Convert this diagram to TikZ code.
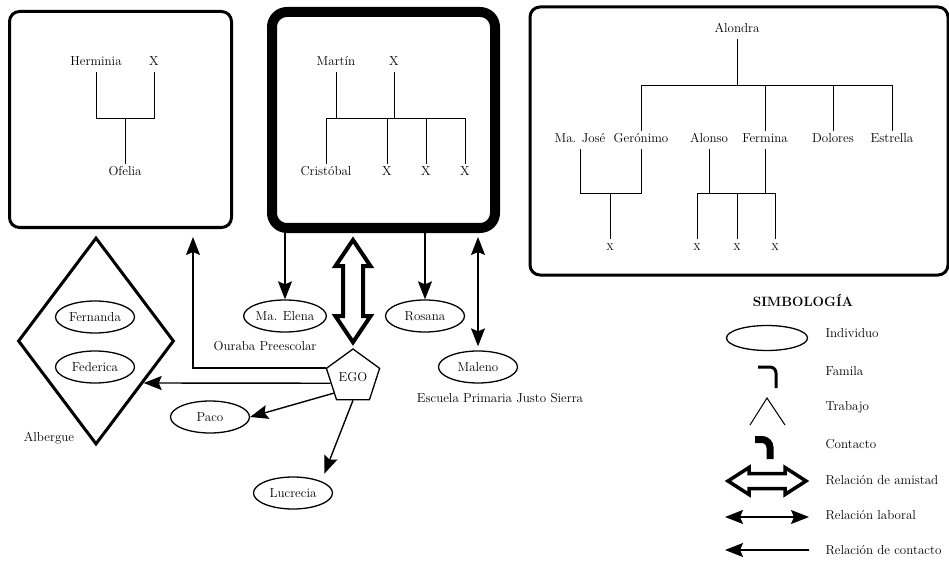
\documentclass[tikz,border=0pt]{standalone}
\usepackage{fontspec}
\usetikzlibrary{arrows.meta,shapes.geometric,calc}

\tikzset{
  lbl/.style={inner sep=3pt, text height=9pt, text depth=3pt},
  smallx/.style={lbl, font=\fontsize{10}{12}\selectfont},
  person/.style={draw, ellipse, line width=1.3pt, minimum width=79pt, minimum height=32pt, inner sep=0pt},
  famline/.style={line width=0.9pt},
  famframe/.style={draw, rounded corners=10pt, line width=3pt},
  contact/.style={line width=1.4pt, -{Stealth[length=18pt,width=14pt,inset=3pt]}},
  laboral/.style={line width=1.4pt, {Stealth[length=18pt,width=14pt,inset=3pt]}-{Stealth[length=18pt,width=14pt,inset=3pt]}},
  amistad/.style={line width=4pt, fill=white, line join=miter},
}

\begin{document}
\begin{tikzpicture}[x=1pt, y=-1pt, font=\fontsize{13}{15}\selectfont]
    \useasboundingbox (0,0) rectangle (949,561);

    % familia de Ofelia
    \node[famframe, minimum width=222pt, minimum height=216pt] (box1) at (120.5,119.5) {};
    \node[lbl] (herm) at (96,63) {Herminia};
    \node[lbl] (hx) at (154,63) {X};
    \node[lbl] (ofe) at (125,173) {Ofelia};
    \coordinate (b1) at ($(herm.south)+(0,46)$);
    \draw[famline] (herm.south) -- (b1) -| (hx.south);
    \draw[famline] (ofe.north |- b1) -- (ofe.north);

    % familia de EGO
    \node[draw, rounded corners=15pt, line width=10pt, minimum width=223pt, minimum height=216pt] (box2) at (383.5,120) {};
    \node[lbl] (mart) at (336,63) {Martín};
    \node[lbl] (mx) at (394,63) {X};
    \node[lbl] (cris) at (326,173) {Cristóbal};
    \node[lbl] (c2) at (387,173) {X};
    \node[lbl] (c3) at (426,173) {X};
    \node[lbl] (c4) at (465,173) {X};
    \coordinate (b2) at ($(mart.south)+(0,46)$);
    \draw[famline] (mart.south) -- (b2);
    \draw[famline] (mx.south) -- (mx.south |- b2);
    \draw[famline] (cris.north |- b2) -- (c4.north |- b2);
    \foreach \n in {cris,c2,c3,c4}
        \draw[famline] (\n.north |- b2) -- (\n.north);

    % familia de Alondra
    \node[famframe, minimum width=418pt, minimum height=268pt] (box3) at (739,141) {};
    \node[lbl] (alon) at (737,30) {Alondra};
    \node[lbl] (mjose) at (580,140) {Ma. José};
    \node[lbl] (ger) at (641,140) {Gerónimo};
    \node[lbl] (alo) at (709,140) {Alonso};
    \node[lbl] (fer) at (765,140) {Fermina};
    \node[lbl] (dol) at (833,140) {Dolores};
    \node[lbl] (est) at (892,140) {Estrella};
    \coordinate (b3) at ($(alon.south)+(0,46)$);
    \draw[famline] (alon.south) -- (b3);
    \draw[famline] (ger.north |- b3) -- (est.north |- b3);
    \foreach \n in {ger,fer,dol,est}
        \draw[famline] (\n.north |- b3) -- (\n.north);
    \node[smallx] (gx) at (610,248) {X};
    \node[smallx] (fx1) at (697,248) {X};
    \node[smallx] (fx2) at (737,248) {X};
    \node[smallx] (fx3) at (775,248) {X};
    \coordinate (b4) at ($(mjose.south)+(0,44)$);
    \draw[famline] (mjose.south) -- (b4) -| (ger.south);
    \draw[famline] (gx.north |- b4) -- (gx.north);
    \draw[famline] (alo.south) -- (alo.south |- b4);
    \draw[famline] (fer.south) -- (fer.south |- b4);
    \draw[famline] (fx1.north |- b4) -- (fx3.north |- b4);
    \foreach \n in {fx1,fx2,fx3}
        \draw[famline] (\n.north |- b4) -- (\n.north);

    % albergue
    \node[draw, diamond, line width=3pt, minimum width=156pt, minimum height=207pt, inner sep=0pt] (alb) at (96,341) {};
    \node[person] (fern) at (95,317) {Fernanda};
    \node[person] (fede) at (95,367) {Federica};
    \node at (49,438) {Albergue};

    % individuos
    \node[draw, regular polygon, regular polygon sides=5, minimum size=56pt, inner sep=0pt, line width=1.3pt] (ego) at (353,377) {EGO};
    \node[person] (elena) at (285,316) {Ma. Elena};
    \node at (265,346) {Ouraba Preescolar};
    \node[person] (ros) at (425,316) {Rosana};
    \node[person] (male) at (478,367) {Maleno};
    \node at (500,398) {Escuela Primaria Justo Sierra};
    \node[person] (paco) at (210,417) {Paco};
    \node[person] (luc) at (293,493) {Lucrecia};

    % relaciones
    \draw[contact] (elena.north |- box2.south) -- (elena.north);
    \draw[contact] (ros.north |- box2.south) -- (ros.north);
    \draw[laboral, shorten <=4pt, shorten >=4pt] (male.north |- box2.south) -- (male.north);
    \draw[contact, shorten >=8pt] (ego.corner 2) -| ($(box1.south east)+(-40,0)$);
    \draw[contact] ($(ego.corner 2)!0.47!(ego.corner 3)$) -- ($(alb.east)!0.4!(alb.south)$);
    \draw[contact] (ego.220) -- (paco.east);
    \draw[contact, shorten >=8pt] (ego.south) -- (luc.north east);
    \coordinate (fa) at ($(ego.north |- box2.south)+(0,7)$);
    \coordinate (fb) at ($(ego.north)+(0,-6)$);
    \draw[amistad] (fa) -- ++(17.5,26) -- ++(-7.5,0) -- ($(fb)+(10,-26)$) -- ++(7.5,0) -- (fb)
        -- ++(-17.5,-26) -- ++(7.5,0) -- ($(fa)+(-10,26)$) -- ++(-7.5,0) -- cycle;

    % simbologia
    \node[font=\bfseries\fontsize{13.5}{15}\selectfont] at (803,300) {SIMBOLOGÍA};
    \node[person, minimum width=81pt, minimum height=25pt] (ind) at (767,338) {};
    \draw[line width=3pt, rounded corners=6pt] (758,367) -- (776,367) -- (776,388);
    \draw[line width=1pt] (750,425) -- (767,398) -- (785,425);
    \draw[line width=7pt, rounded corners=8pt] (755,439.5) -- (770,439.5) -- (770,459);
    \draw[amistad, line width=3.5pt] (728,481) -- ++(21,-13.5) -- ++(0,6) -- (785,473.5) -- ++(0,-6) -- (806,481)
        -- ++(-21,13.5) -- ++(0,-6) -- (749,488.5) -- ++(0,6) -- cycle;
    \draw[laboral] (725,517) -- (809,517);
    \draw[contact] (809,550) -- (725,550);
    \node[anchor=west] at (822,333) {Individuo};
    \node[anchor=west] at (822,371) {Famila};
    \node[anchor=west] at (822,407) {Trabajo};
    \node[anchor=west] at (822,444) {Contacto};
    \node[anchor=west] at (822,480) {Relación de amistad};
    \node[anchor=west] at (822,515) {Relación laboral};
    \node[anchor=west] at (822,550) {Relación de contacto};
\end{tikzpicture}
\end{document}
